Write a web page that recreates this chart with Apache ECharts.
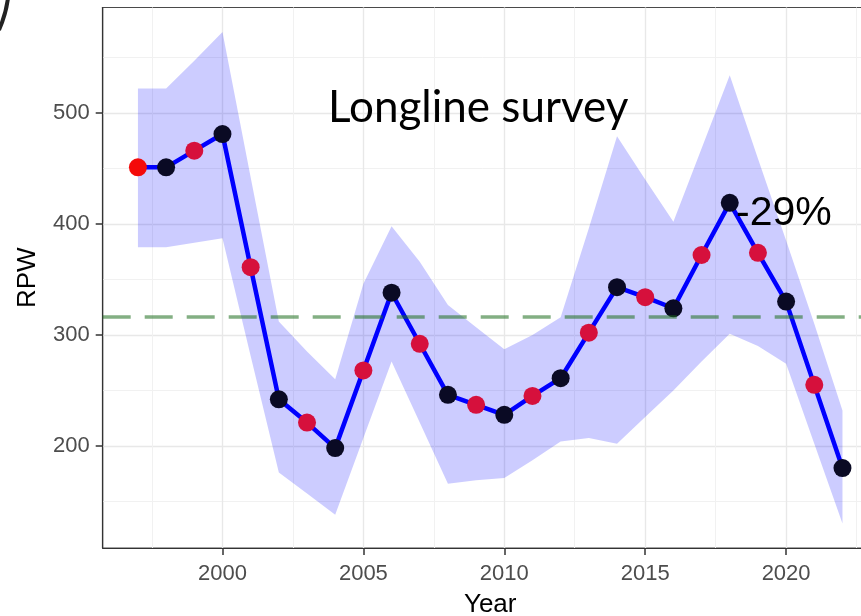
<!DOCTYPE html>
<html>
<head>
<meta charset="utf-8">
<script src="https://cdn.jsdelivr.net/npm/echarts@6/dist/echarts.min.js"></script>
<style>html,body{margin:0;padding:0;background:#fff;}#c{width:861px;height:616px;}</style>
</head>
<body>
<div id="c"></div>
<script>
const years = [1997,1998,1999,2000,2001,2002,2003,2004,2005,2006,2007,2008,2009,2010,2011,2012,2013,2014,2015,2016,2017,2018,2019,2020,2021,2022];
const rpw   = [451,451,466,481,361,242,221,198,268,338,292,246,237,228,245,261,302,343,334,324,372,419,374,330,255,180];
const lower = [379,379,383,387,281,176,157,138,207,276,221,166,169,171,187,204,207,202,226,250,276,301,290,274,202,130];
const upper = [522,522,547,573,442,312,285,260,346,398,366,327,307,287,300,316,396,479,440,402,468,534,459,385,310,232];
const meanRPW = 316.5;
const xTicks = [2000,2005,2010,2015,2020];
const xMinor = [1997.5,2002.5,2007.5,2012.5,2017.5,2022.5];
const yTicks = [200,300,400,500];
const yMinor = [150,250,350,450,550];
const xRange = [1995.75, 2023.25];
const yRange = [108, 595];
const titleText = 'Longline survey';
const changeText = '-29%';

const chart = echarts.init(document.getElementById('c'), null, {renderer:'canvas'});
const pairs = arr => years.map((y,i)=>[y, arr[i]]);

const gridBox = {left:102.7, top:7.5, width:775, height:540.5};
const tickFont = {fontFamily:'Liberation Sans', fontSize:22, color:'#4d4d4d', formatter:v=>String(v)};

function renderBand(params, api){
  const pts = [];
  for (let i=0;i<years.length;i++) pts.push(api.coord([years[i], upper[i]]));
  for (let i=years.length-1;i>=0;i--) pts.push(api.coord([years[i], lower[i]]));
  return {type:'polygon', shape:{points:pts}, style:{fill:'rgba(0,0,255,0.2)'}};
}

const option = {
  animation:false,
  backgroundColor:'#fff',
  grid:[Object.assign({show:true, containLabel:false, outerBoundsMode:'none',
    borderColor:'#4a4a4a', borderWidth:1.2, backgroundColor:'transparent'}, gridBox)],
  xAxis:[{
    type:'value', min:xRange[0], max:xRange[1],
    name:'Year', nameLocation:'middle', nameGap:44,
    nameTextStyle:{fontFamily:'Liberation Sans', fontSize:26, color:'#000'},
    axisLine:{show:true, onZero:false, lineStyle:{color:'#333', width:1.2}},
    axisTick:{show:true, length:7, customValues:xTicks, lineStyle:{color:'#333', width:1.5}},
    axisLabel:Object.assign({customValues:xTicks, margin:15}, tickFont),
    splitLine:{show:true, lineStyle:{color:'#e8e8e8', width:1.4}}
  },{
    type:'value', min:xRange[0], max:xRange[1], gridIndex:0,
    axisLine:{show:false}, axisLabel:{show:false},
    axisTick:{show:false, customValues:xMinor},
    splitLine:{show:true, lineStyle:{color:'#f1f1f1', width:1}}
  }],
  yAxis:[{
    type:'value', min:yRange[0], max:yRange[1],
    name:'RPW', nameLocation:'middle', nameGap:62, nameRotate:90,
    nameTextStyle:{fontFamily:'Liberation Sans', fontSize:26, color:'#000'},
    axisLine:{show:true, onZero:false, lineStyle:{color:'#333', width:1.2}},
    axisTick:{show:true, length:7, customValues:yTicks, lineStyle:{color:'#333', width:1.5}},
    axisLabel:Object.assign({customValues:yTicks, margin:13}, tickFont),
    splitLine:{show:true, lineStyle:{color:'#e8e8e8', width:1.4}}
  },{
    type:'value', min:yRange[0], max:yRange[1], gridIndex:0,
    axisLine:{show:false}, axisLabel:{show:false},
    axisTick:{show:false, customValues:yMinor},
    splitLine:{show:true, lineStyle:{color:'#f1f1f1', width:1}}
  }],
  series:[
    {type:'custom', name:'band', data:[0], renderItem:renderBand, silent:true, z:1},
    {type:'line', name:'mean', data:[], z:2,
     markLine:{silent:true, symbol:'none', label:{show:false},
       lineStyle:{color:'rgba(30,110,30,0.55)', width:3.5, type:[28,14]},
       data:[{yAxis:meanRPW}]}},
    {type:'line', name:'RPW', data:pairs(rpw), z:3, showAllSymbol:true,
     lineStyle:{color:'#0000ff', width:4.5},
     symbol:'circle', symbolSize:18,
     itemStyle:{color:function(p){
        if (p.dataIndex === 0) return '#f40a0a';
        return (years[p.dataIndex] % 2 === 1) ? '#d6103c' : '#0a0a24';
     }, borderWidth:0}}
  ],
  graphic:[
    {type:'text', left:328, top:86, z:10,
     style:{text:titleText, font:'44px Lato', fill:'#000'}},
    {type:'text', left:736, top:193, z:10,
     style:{text:changeText, font:'41px "Liberation Sans"', fill:'#000'}},
    {type:'bezierCurve', z:10,
     shape:{x1:8, y1:-2, x2:-1, y2:30, cpx1:6, cpy1:14},
     style:{stroke:'#222', lineWidth:4, fill:null}}
  ]
};
chart.setOption(option);
</script>
</body>
</html>
